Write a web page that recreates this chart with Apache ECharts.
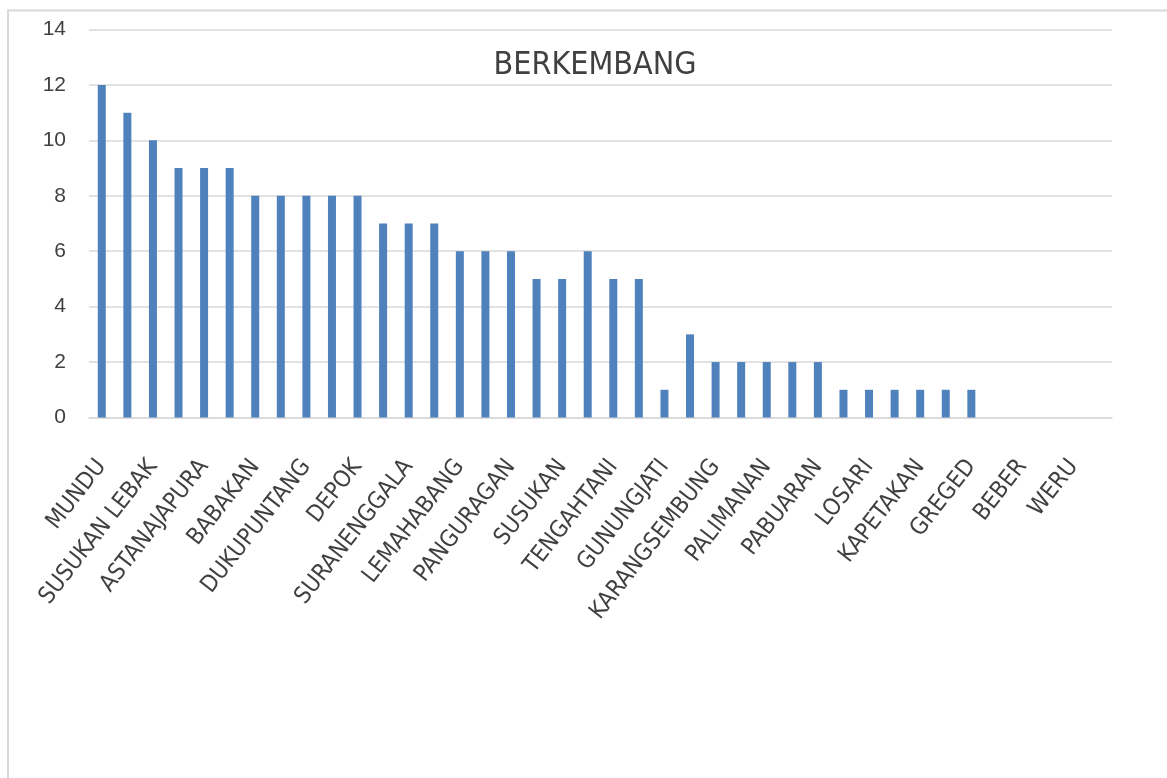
<!DOCTYPE html>
<html>
<head>
<meta charset="utf-8">
<title>BERKEMBANG</title>
<script src="https://cdn.jsdelivr.net/npm/echarts@6/dist/echarts.min.js"></script>
<style>
  html, body { margin: 0; padding: 0; background: #ffffff; }
  #chart { width: 1167px; height: 778px; }
</style>
</head>
<body>
<div id="chart"></div>
<script>
// Kecamatan names (every second one is labelled on the axis)
const categories = [
  'MUNDU', 'ARJAWINANGUN', 'SUSUKAN LEBAK', 'CILEDUG', 'ASTANAJAPURA',
  'CIWARINGIN', 'BABAKAN', 'GEBANG', 'DUKUPUNTANG', 'GEGESIK',
  'DEPOK', 'GEMPOL', 'SURANENGGALA', 'JAMBLANG', 'LEMAHABANG',
  'KALIWEDI', 'PANGURAGAN', 'KARANGWARENG', 'SUSUKAN', 'KEDAWUNG',
  'TENGAHTANI', 'KLANGENAN', 'GUNUNGJATI', 'PABEDILAN', 'KARANGSEMBUNG',
  'PANGENAN', 'PALIMANAN', 'PASALEMAN', 'PABUARAN', 'PLERED',
  'LOSARI', 'PLUMBON', 'KAPETAKAN', 'SEDONG', 'GREGED',
  'SUMBER', 'BEBER', 'TALUN', 'WERU', 'WALED'
];

// Number of desa per kecamatan in the "berkembang" category
const values = [
  12, 11, 10, 9, 9,
  9, 8, 8, 8, 8,
  8, 7, 7, 7, 6,
  6, 6, 5, 5, 6,
  5, 5, 1, 3, 2,
  2, 2, 2, 2, 1,
  1, 1, 1, 1, 1,
  0, 0, 0, 0, 0
];

const yTicks = { min: 0, max: 14, interval: 2 };

const textColor = '#404040';
const gridColor = '#d9d9d9';
const narrowFont = '"DejaVu Sans Condensed", "Liberation Sans Narrow", "Liberation Sans", sans-serif';

const chart = echarts.init(document.getElementById('chart'), null, { renderer: 'canvas' });

chart.setOption({
  backgroundColor: '#ffffff',
  animation: false,
  title: {
    text: 'BERKEMBANG',
    left: 590,
    textAlign: 'center',
    top: 45,
    textStyle: {
      fontFamily: narrowFont,
      fontSize: 32,
      fontWeight: 'normal',
      color: textColor
    }
  },
  graphic: [
    { type: 'line', shape: { x1: 7, y1: 10.5, x2: 1167, y2: 10.5 }, style: { stroke: '#d9d9d9', lineWidth: 2 } },
    { type: 'line', shape: { x1: 8, y1: 10, x2: 8, y2: 778 }, style: { stroke: '#d9d9d9', lineWidth: 2 } }
  ],
  grid: { left: 89, right: 55, top: 29.5, bottom: 360.5, containLabel: false },
  xAxis: {
    type: 'category',
    data: categories,
    axisLine: { show: true, lineStyle: { color: gridColor, width: 1.5 } },
    axisTick: { show: false },
    axisLabel: {
      interval: 1,
      rotate: 52,
      margin: 45,
      color: textColor,
      fontFamily: narrowFont,
      fontSize: 23.5
    }
  },
  yAxis: {
    type: 'value',
    min: yTicks.min,
    max: yTicks.max,
    interval: yTicks.interval,
    axisLine: { show: false },
    axisTick: { show: false },
    splitLine: { lineStyle: { color: gridColor, width: 1.5 } },
    axisLabel: {
      margin: 23,
      color: textColor,
      fontFamily: '"Liberation Sans", sans-serif',
      fontSize: 21
    }
  },
  series: [{
    type: 'bar',
    data: values,
    barWidth: 8,
    itemStyle: { color: '#4f81bd' }
  }]
});
</script>
</body>
</html>
